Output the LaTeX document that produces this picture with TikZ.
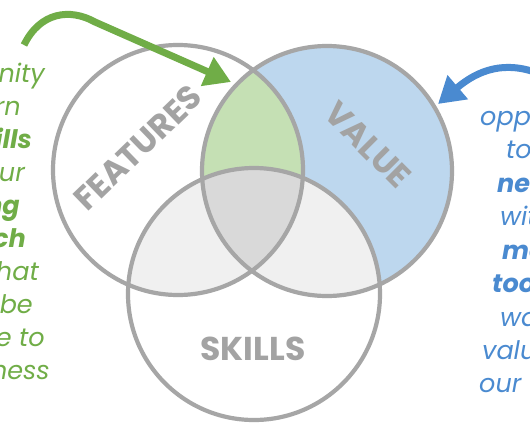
\documentclass[tikz,border=0pt]{standalone}
\usepackage{fontspec}
\setmainfont{Poppins}
\usetikzlibrary{arrows.meta}
\definecolor{ring}{HTML}{A6A6A6}
\definecolor{bluefill}{HTML}{BDD7EE}
\definecolor{greenfill}{HTML}{C5E0B4}
\definecolor{lgray}{HTML}{F0F0F0}
\definecolor{dgray}{HTML}{D9D9D9}
\definecolor{txtgreen}{HTML}{70AD47}
\definecolor{txtblue}{HTML}{4A8AD0}
\definecolor{lblgray}{HTML}{A3A3A3}
\tikzset{
  ringline/.style={draw=ring, line width=4.2pt},
  sidetext/.style={inner sep=0pt, font=\fontsize{25.5}{33}\selectfont\itshape},
  lefttext/.style={sidetext, text=txtgreen, anchor=base east},
  righttext/.style={sidetext, text=txtblue, anchor=base west},
  bigword/.style={inner sep=0pt, text=lblgray, font=\fontsize{33}{40}\selectfont\bfseries},
  greenarrow/.style={draw=txtgreen, line width=7pt, -{Triangle[length=26pt,width=30pt]}},
  bluearrow/.style={draw=txtblue, line width=7pt, -{Triangle[length=26pt,width=30pt]}}
}
\begin{document}
\begin{tikzpicture}[x=1pt,y=-1pt]
\useasboundingbox (0,0) rectangle (530,442);
\clip (0,0) rectangle (530,442);
\fill[white] (0,0) rectangle (530,442);
\coordinate (F) at (178,170);
\coordinate (V) at (327,171);
\coordinate (S) at (254,294);
% fills
\fill[bluefill] (V) circle[radius=125];
\begin{scope}
  \clip (F) circle[radius=125];
  \fill[greenfill] (V) circle[radius=125];
\end{scope}
\begin{scope}
  \clip (S) circle[radius=126];
  \fill[white] (S) circle[radius=126];
  \fill[lgray] (F) circle[radius=125];
  \fill[lgray] (V) circle[radius=125];
  \clip (F) circle[radius=125];
  \fill[dgray] (V) circle[radius=125];
\end{scope}
% rings
\draw[ringline] (F) circle[radius=125];
\draw[ringline] (V) circle[radius=125];
\draw[ringline] (S) circle[radius=126];
% labels
\node[bigword, rotate=44] (lf) at (138,148) {FEATURES};
\node[bigword, rotate=-45] (lv) at (368,145) {VALUE};
\node[bigword] (ls) at (253,349) {SKILLS};
% arrows
\coordinate (ga) at (24,45);
\coordinate (gb) at (95,22);
\coordinate (gt) at (231,82);
\draw[greenarrow] (ga) .. controls (40,12) and (70,8) .. (gb) -- (gt);
\coordinate (ba) at (540,74);
\coordinate (bt) at (438,104);
\draw[bluearrow] (ba) .. controls (505,60) and (478,70) .. (bt);
% left text
\node[lefttext] (l1) at (45,82) {nity};
\node[lefttext] (l2) at (21,115) {rn};
\node[lefttext] (l3) at (32,148) {\bfseries ills};
\node[lefttext] (l4) at (25,181) {ur};
\node[lefttext] (l5) at (20,214) {\bfseries ng};
\node[lefttext] (l6) at (26,247) {\bfseries ch};
\node[lefttext] (l7) at (39,280) {hat};
\node[lefttext] (l8) at (33,313) {be};
\node[lefttext] (l9) at (45,346) {e to};
\node[lefttext] (l10) at (50,379) {ness};
% right text
\node[righttext] (r1) at (480,125) {opp};
\node[righttext] (r2) at (506,158) {to};
\node[righttext] (r3) at (497,192) {\bfseries ne};
\node[righttext] (r4) at (500,225) {wit};
\node[righttext] (r5) at (502,259) {\bfseries mo};
\node[righttext] (r6) at (492,292) {\bfseries too};
\node[righttext] (r7) at (500,326) {wa};
\node[righttext] (r8) at (482,359) {valu};
\node[righttext] (r9) at (479,392) {our};
\end{tikzpicture}
\end{document}
